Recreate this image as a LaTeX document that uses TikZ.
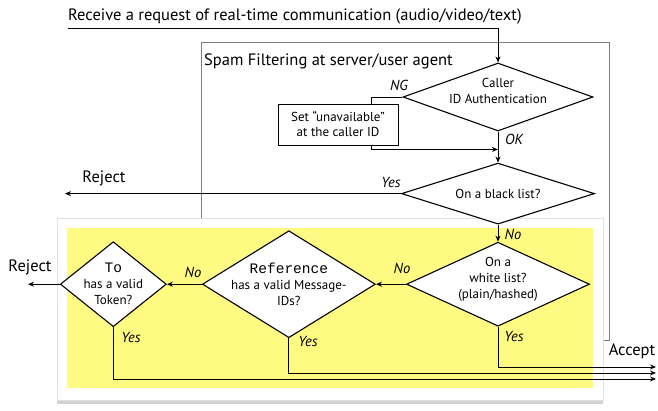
\documentclass[tikz,border=0pt]{standalone}
\usepackage{fontspec}
\setmainfont{PT Sans}
\setmonofont{Liberation Mono}
\usepackage{tikz}
\usetikzlibrary{
  shapes.geometric,
  arrows.meta,
  positioning, calc,
  shadows
}
\definecolor{memoyellow}{RGB}{255,250,130}
\definecolor{framegray}{RGB}{125,125,125}
\tikzset{
  decision/.style={diamond,draw=black,line width=1.1pt,fill=white,inner sep=0pt,aspect=1},
  dtext/.style={align=center,inner sep=0pt,font=\fontsize{13}{16}\selectfont},
  actbox/.style={rectangle,draw=black,line width=0.9pt,fill=white,align=center,inner sep=0pt,minimum width=120pt,minimum height=41pt,font=\fontsize{13}{15}\selectfont},
  yn/.style={inner sep=0pt,font=\fontsize{14.5}{16}\selectfont\itshape},
  outlabel/.style={inner sep=0pt,font=\fontsize{16.5}{18}\selectfont},
  flow/.style={line width=1pt,color=black},
  arr/.style={flow,-{Stealth[length=6pt,width=5pt]}},
  framebox/.style={draw=framegray,line width=0.8pt},
  panel/.style={fill=white,draw=black!12,drop shadow={shadow xshift=0pt,shadow yshift=-4pt,opacity=0.35}}
}
\newcommand{\fieldname}[1]{{\ttfamily\fontsize{14.5}{16}\selectfont #1}}

\begin{document}
\begin{tikzpicture}[x=1pt,y=-1pt,node distance=20pt]
  \useasboundingbox (0,0) rectangle (658,410);

  %% filtering frame and the highlighted panel
  \draw[framebox] (201,42) rectangle (609,340);
  \draw[panel] (57,218) rectangle (603,400);
  \fill[memoyellow] (67,228) rectangle (593,388);

  %% incoming request
  \node[outlabel,anchor=base west] (req) at (68,20) {Receive a request of real-time communication (audio/video/text)};
  \coordinate (start) at (68,28);
  \node[outlabel,anchor=base west] (spam) at (204,65) {Spam Filtering at server/user agent};

  %% decisions
  \node[decision,minimum width=190pt,minimum height=68pt,
        label={[dtext,yshift=6pt]center:{Caller\\ID Authentication}}] (caller) at (498,97) {};
  \node[actbox] (unavail) at (338,124.5) {Set “unavailable”\\at the caller ID};
  \node[decision,below=31pt of caller,minimum width=193pt,minimum height=61pt,
        label={[dtext]center:{On a black list?}}] (black) {};
  \node[decision,below=17pt of black,minimum width=183pt,minimum height=84pt,
        label={[dtext,yshift=5pt]center:{On a\\white list?\\(plain/hashed)}}] (white) {};
  \node[decision,left=30pt of white,minimum width=173pt,minimum height=107pt,
        label={[dtext]center:{\fieldname{Reference}\\has a valid Message-\\IDs?}}] (ref) {};
  \node[decision,left=35pt of ref,minimum width=106pt,minimum height=85pt,
        label={[dtext]center:{\fieldname{To}\\has a valid\\Token?}}] (token) {};

  %% end points
  \coordinate (rej1) at (65,192);
  \coordinate (rej2) at (28,282);
  \coordinate (acc1) at (656,367);
  \coordinate (acc2) at (656,373);
  \coordinate (acc3) at (656,379);

  %% connectors
  \draw[arr] (start) -| (caller.north);
  \draw[flow] (caller.west) -| ([xshift=33pt]unavail.north);
  \draw[arr] ([xshift=33pt]unavail.south) |- ([yshift=-4pt]unavail.south -| caller.south);
  \draw[arr] (caller.south) -- (black.north);
  \draw[arr] (black.west) -- (rej1 |- black.west);
  \draw[arr] (black.south) -- (white.north);
  \draw[arr] (white.west) -- (ref.east);
  \draw[arr] (ref.west) -- (token.east);
  \draw[arr] (token.west) -- (rej2 |- token.west);
  \draw[arr] (white.south) |- (acc1);
  \draw[arr] (ref.south) |- (acc2);
  \draw[arr] (token.south) |- (acc3);

  %% branch labels
  \node[yn] (ng) at (399,85) {NG};
  \node[yn] (ok) at (514,139) {OK};
  \node[yn] (yesblack) at (391,183) {Yes};
  \node[yn] (noblack) at (513,234) {No};
  \node[yn] (nowhite) at (402,268) {No};
  \node[yn] (noref) at (193,272) {No};
  \node[yn] (yeswhite) at (514,337) {Yes};
  \node[yn] (yesref) at (308,342) {Yes};
  \node[yn] (yestoken) at (131,338) {Yes};
  \node[outlabel] (reject1) at (104,178) {Reject};
  \node[outlabel] (reject2) at (30,267) {Reject};
  \node[outlabel] (accept) at (632,351) {Accept};
\end{tikzpicture}
\end{document}
